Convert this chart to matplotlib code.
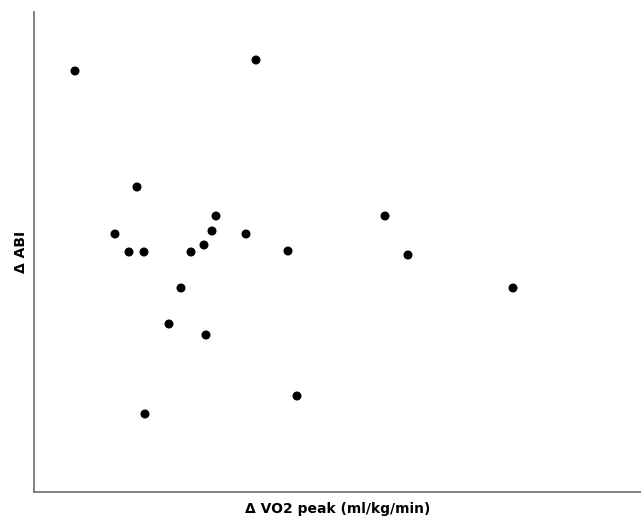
import matplotlib
matplotlib.use("Agg")
import matplotlib.pyplot as plt

# Data (arbitrary units)
delta_vo2 = [75, 256, 137, 115, 129, 144, 216, 212, 204, 191, 246, 288, 181, 169, 206, 145, 297, 385, 408, 513]
delta_abi = [429, 440, 313, 266, 248, 248, 284, 269, 255, 248, 266, 249, 212, 176, 165, 86, 104, 284, 245, 212]

fig = plt.figure(figsize=(6.41, 5.19), dpi=100)
ax = fig.add_axes([34/641, (519-492)/519, 1 - 34/641, (492-12)/519])

ax.scatter(delta_vo2, delta_abi, s=42, color="black", edgecolors="none")

ax.set_xlim(34, 641)
ax.set_ylim(500 - 492, 500 - 12)

ax.set_xticks([])
ax.set_yticks([])
for side in ["top", "right"]:
    ax.spines[side].set_visible(False)
for side in ["left", "bottom"]:
    ax.spines[side].set_color("#777777")
    ax.spines[side].set_linewidth(1.3)

ax.set_xlabel("Δ VO2 peak (ml/kg/min)", fontsize=10, fontweight="bold", family="DejaVu Sans", labelpad=7)
ax.set_ylabel("Δ ABI", fontsize=10, fontweight="bold", family="DejaVu Sans", labelpad=4)

fig.savefig("out.png", dpi=100)
